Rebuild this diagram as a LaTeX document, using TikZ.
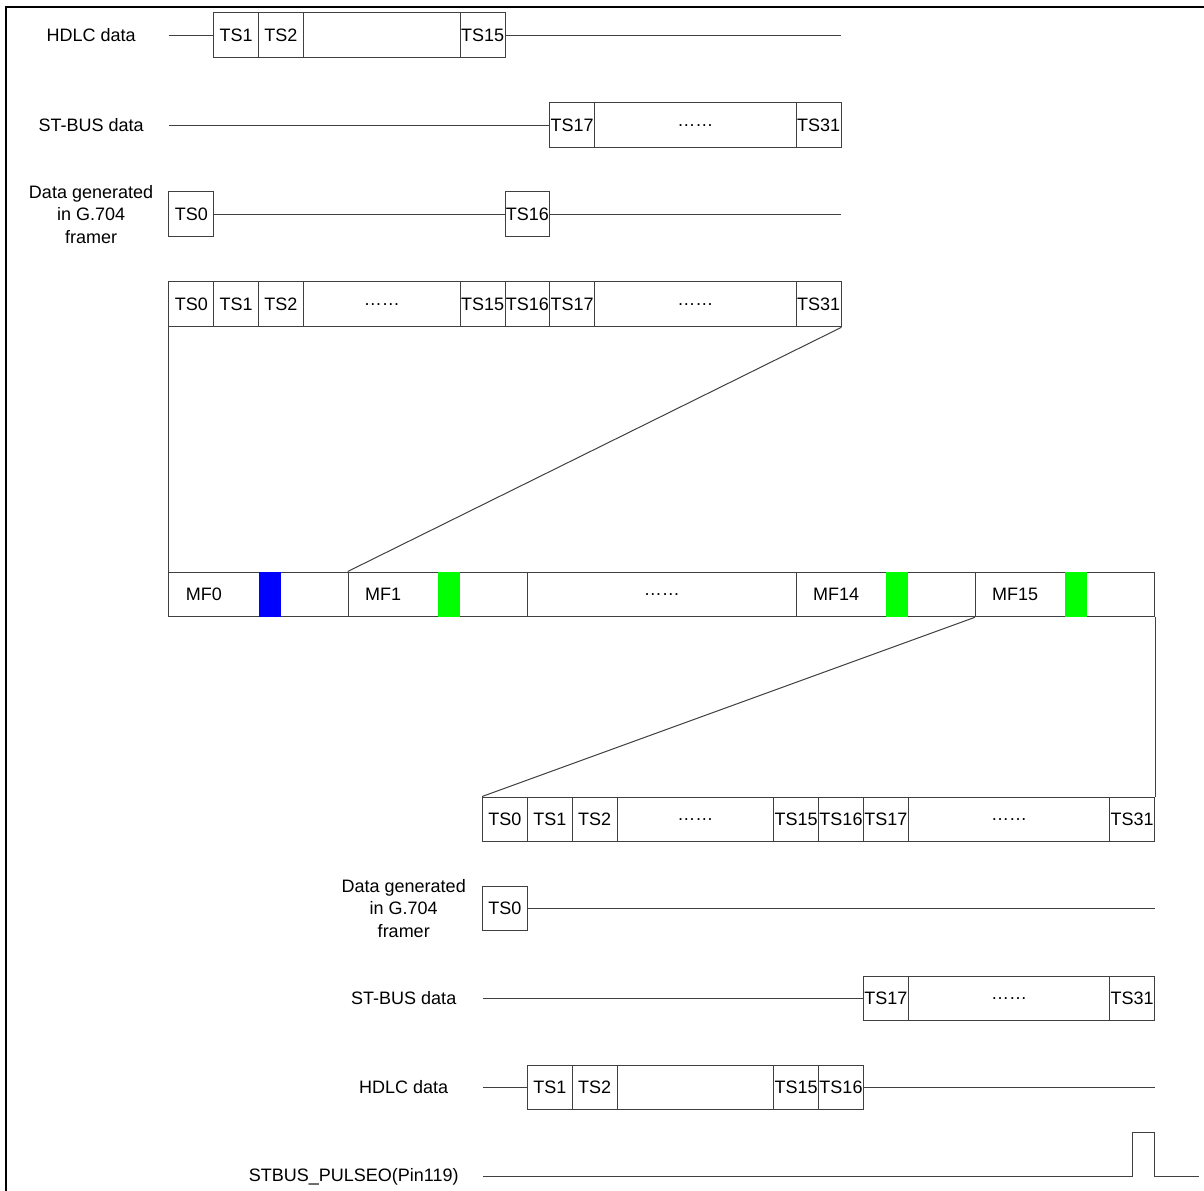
\documentclass[tikz,border=0pt]{standalone}
\usepackage{fontspec}
\setmainfont{Liberation Sans}
\newcommand\tcell[5]{\node[tsbox,minimum width={(#3-#2)*33.6pt}] (#1) at ({(#2+#3)/2},#4) {#5};}
\newcommand\mfbox[5]{% name, left, right, label, bar colour
  \node[tsbox,minimum width={(#3-#2)*33.6pt}] (#1) at ({(#2+#3)/2},594.4) {};
  \fill[#5] ({#2+2},572.2) rectangle ({#2+2.5},616.6);
  \node[lbl,anchor=west] (#1L) at ({#2+0.37},594.4) {#4};}
\begin{document}
\begin{tikzpicture}[x=33.6pt,y=-0.75pt,
  ln/.style={draw=black!75,line width=0.75pt},
  tsbox/.style={draw=black!75,line width=0.75pt,inner sep=0pt,minimum height=33.6pt,
    font=\fontsize{13.5}{15}\selectfont,anchor=center},
  lbl/.style={font=\fontsize{13.5}{17}\selectfont,align=center,inner sep=0pt}]
\useasboundingbox (-3.7723,0) rectangle (23.1027,1191);
% outer frame
\draw[line width=1.5pt] (-3.638,1191) -- (-3.638,7) -- (23.1027,7);

% ---------- top section ----------
% HDLC data
\node[lbl] (hL) at (-1.74,35.4) {HDLC data};
\coordinate (hS) at (0,35.4);
\coordinate (hEnd) at (15,35.4);
\tcell{hA}{1}{2}{35.4}{TS1}
\tcell{hB}{2}{3}{35.4}{TS2}
\tcell{hC}{3}{6.5}{35.4}{}
\tcell{hD}{6.5}{7.5}{35.4}{TS15}
\draw[ln] (hS) -- (hA.west);
\draw[ln] (hD.east) -- (hEnd);

% ST-BUS data
\node[lbl] (sL) at (-1.74,125.4) {ST-BUS data};
\coordinate (sS) at (0,125.4);
\tcell{sA}{8.5}{9.5}{125.4}{TS17}
\tcell{sB}{9.5}{14}{125.4}{……}
\tcell{sC}{14}{15}{125.4}{TS31}
\draw[ln] (sS) -- (sA.west);

% G.704
\node[lbl] (gL) at (-1.74,214.4) {Data generated\\in G.704\\framer};
\coordinate (gEnd) at (15,214.4);
\tcell{gA}{0}{1}{214.4}{TS0}
\tcell{gB}{7.5}{8.5}{214.4}{TS16}
\draw[ln] (gA.east) -- (gB.west);
\draw[ln] (gB.east) -- (gEnd);

% full frame
\tcell{fA}{0}{1}{304.4}{TS0}
\tcell{fB}{1}{2}{304.4}{TS1}
\tcell{fC}{2}{3}{304.4}{TS2}
\tcell{fD}{3}{6.5}{304.4}{……}
\tcell{fE}{6.5}{7.5}{304.4}{TS15}
\tcell{fF}{7.5}{8.5}{304.4}{TS16}
\tcell{fG}{8.5}{9.5}{304.4}{TS17}
\tcell{fH}{9.5}{14}{304.4}{……}
\tcell{fI}{14}{15}{304.4}{TS31}

% ---------- multiframe ----------
\mfbox{mA}{0}{4}{MF0}{blue}
\mfbox{mB}{4}{8}{MF1}{green}
\tcell{mC}{8}{14}{594.4}{……}
\mfbox{mD}{14}{18}{MF14}{green}
\mfbox{mE}{18}{22}{MF15}{green}

\draw[ln] (fA.south west) -- (mA.north west);
\draw[ln] (fI.south east) -- (mB.north west);

% ---------- bottom frame ----------
\tcell{bA}{7}{8}{819.4}{TS0}
\tcell{bB}{8}{9}{819.4}{TS1}
\tcell{bC}{9}{10}{819.4}{TS2}
\tcell{bD}{10}{13.5}{819.4}{……}
\tcell{bE}{13.5}{14.5}{819.4}{TS15}
\tcell{bF}{14.5}{15.5}{819.4}{TS16}
\tcell{bG}{15.5}{16.5}{819.4}{TS17}
\tcell{bH}{16.5}{21}{819.4}{……}
\tcell{bI}{21}{22}{819.4}{TS31}

\draw[ln] (mE.south west) -- (bA.north west);
\draw[ln] (mE.south east) -- (bI.north east);

% G.704 bottom
\node[lbl] (qL) at (5.24,908.4) {Data generated\\in G.704\\framer};
\coordinate (qEnd) at (22,908.4);
\tcell{qA}{7}{8}{908.4}{TS0}
\draw[ln] (qA.east) -- (qEnd);

% ST-BUS bottom
\node[lbl] (tL) at (5.24,998.4) {ST-BUS data};
\coordinate (tS) at (7,998.4);
\tcell{tA}{15.5}{16.5}{998.4}{TS17}
\tcell{tB}{16.5}{21}{998.4}{……}
\tcell{tC}{21}{22}{998.4}{TS31}
\draw[ln] (tS) -- (tA.west);

% HDLC bottom
\node[lbl] (uL) at (5.24,1087.4) {HDLC data};
\coordinate (uS) at (7,1087.4);
\coordinate (uEnd) at (22,1087.4);
\tcell{uA}{8}{9}{1087.4}{TS1}
\tcell{uB}{9}{10}{1087.4}{TS2}
\tcell{uC}{10}{13.5}{1087.4}{}
\tcell{uD}{13.5}{14.5}{1087.4}{TS15}
\tcell{uE}{14.5}{15.5}{1087.4}{TS16}
\draw[ln] (uS) -- (uA.west);
\draw[ln] (uE.east) -- (uEnd);

% pulse
\node[lbl,anchor=east] (pL) at (6.47,1176.5) {STBUS\_PULSEO(Pin119)};
\coordinate (pS) at (7,1176.5);
\coordinate (pEnd) at (22.98,1176.5);
\draw[ln] (pS) -- (21.5,1176.5) -- (21.5,1132) -- (22,1132) -- (22,1176.5) -- (pEnd);
\end{tikzpicture}
\end{document}
